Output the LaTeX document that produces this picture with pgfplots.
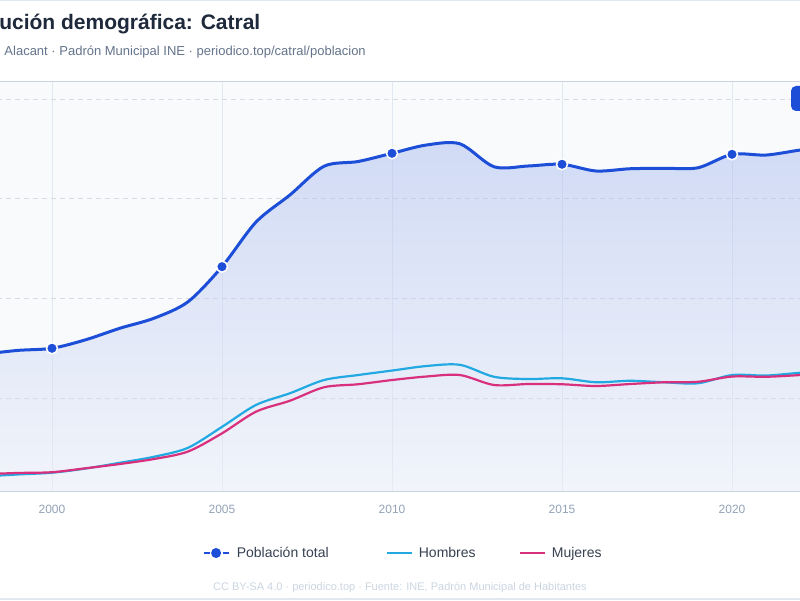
\documentclass[border=0pt]{standalone}
\usepackage{fontspec}
\setmainfont{Liberation Sans}
\usepackage{pgfplots}
\usepackage{pgfplotstable}
\pgfplotsset{compat=1.18}

\definecolor{totalblue}{HTML}{1D4ED8}
\definecolor{hombresc}{HTML}{22A9E2}
\definecolor{mujeresc}{HTML}{D9307D}
\definecolor{gridc}{HTML}{E2E8F0}
\definecolor{dashc}{HTML}{D5DCE6}
\definecolor{framec}{HTML}{CBD5E1}
\definecolor{plotbg}{HTML}{F8FAFC}
\definecolor{titlec}{HTML}{1E293B}
\definecolor{subc}{HTML}{64748B}
\definecolor{tickc}{HTML}{94A3B8}
\definecolor{legc}{HTML}{374151}
\definecolor{footc}{HTML}{CBD5E1}
\definecolor{filltop}{HTML}{A3B6EE}
\definecolor{fillbot}{HTML}{EAEEF9}

% Padrón municipal: población total, hombres y mujeres
\pgfplotstableread{
year total hombres mujeres
1998 4880 2425 2470
1999 4955 2465 2495
2000 4997 2500 2510
2001 5170 2585 2590
2002 5400 2700 2675
2003 5600 2820 2775
2004 5930 3000 2925
2005 6635 3420 3290
2006 7530 3860 3725
2007 8075 4095 3945
2008 8650 4360 4215
2009 8745 4460 4275
2010 8910 4550 4360
2011 9075 4640 4430
2012 9100 4665 4460
2013 8640 4425 4260
2014 8655 4380 4280
2015 8690 4395 4275
2016 8555 4315 4240
2017 8600 4345 4280
2018 8610 4315 4315
2019 8620 4295 4325
2020 8890 4460 4430
2021 8875 4450 4425
2022 8975 4505 4460
2023 9060 4550 4510
}\catral

\begin{document}
\begin{tikzpicture}
\begin{scope}
\clip (0pt,0pt) rectangle (800pt,600pt);
\fill[white] (0pt,0pt) rectangle (800pt,600pt);
\draw[gridc, line width=1pt] (0pt,599.5pt) -- (800pt,599.5pt);
\draw[gridc, line width=1.5pt] (0pt,1.2pt) -- (800pt,1.2pt);

\node[anchor=base east, inner sep=0pt, text=titlec,
      font=\fontsize{21}{25}\selectfont\bfseries] at (260.5pt,570pt)
      {Evolución demográfica: Catral};
\node[anchor=base east, inner sep=0pt, text=subc,
      font=\fontsize{13}{16}\selectfont] at (366pt,544pt)
      {Catral, Alacant · Padrón Municipal INE · periodico.top/catral/poblacion};

\begin{axis}[
  at={(-84pt,109pt)}, anchor=south west,
  scale only axis, width=952pt, height=409pt,
  xmin=1996, xmax=2024, ymin=2133, ymax=10341,
  axis background/.style={fill=plotbg},
  axis line style={framec, line width=1pt},
  xtick={2000,2005,2010,2015,2020},
  ytick={4000,6000,8000,10000},
  yticklabels={},
  major tick length=0pt,
  xmajorgrids, ymajorgrids,
  x grid style={gridc, line width=0.8pt},
  y grid style={dashc, line width=0.8pt, dash pattern=on 5pt off 4pt},
  /pgf/number format/assume math mode=true,
  x tick label style={/pgf/number format/1000 sep={}, anchor=base, yshift=-22.3pt,
    font=\fontsize{12}{14}\selectfont, text=tickc},
  legend columns=3,
  legend style={at={(axis description cs:0.5105,-0.1516)}, anchor=center,
    draw=none, fill=none, font=\fontsize{14}{17}\selectfont, text=legc,
    nodes={inner sep=0pt},
    /tikz/column 1/.style={column sep=7pt},
    /tikz/column 2/.style={column sep=57pt},
    /tikz/column 3/.style={column sep=6pt},
    /tikz/column 4/.style={column sep=43pt},
    /tikz/column 5/.style={column sep=6pt}},
]
% shaded area under the total, half transparent so the grid shows through
\addplot[draw=none, smooth, top color=filltop, bottom color=fillbot, fill opacity=0.45, forget plot]
  table[x=year, y=total] {\catral} \closedcycle;

\addplot[totalblue, line width=3pt, smooth,
  mark=*, mark indices={3,8,13,18,23}, mark size=5.5pt,
  mark options={fill=totalblue, draw=white, line width=1.5pt, solid},
  legend image code/.code={
    \draw[totalblue, line width=2.5pt] (0pt,0pt) -- (6pt,0pt);
    \draw[totalblue, line width=2.5pt] (19pt,0pt) -- (25pt,0pt);
    \fill[totalblue] (12.5pt,0pt) circle (3.4pt);}]
  table[x=year, y=total] {\catral};
\addlegendentry{Población total}

\addplot[hombresc, line width=2.2pt, smooth,
  legend image code/.code={\draw[hombresc, line width=2.2pt] (0pt,0pt) -- (25pt,0pt);}]
  table[x=year, y=hombres] {\catral};
\addlegendentry{Hombres}

\addplot[mujeresc, line width=2.2pt, smooth,
  legend image code/.code={\draw[mujeresc, line width=2.2pt] (0pt,0pt) -- (25pt,0pt);}]
  table[x=year, y=mujeres] {\catral};
\addlegendentry{Mujeres}
\end{axis}

% button in the top-right corner
\fill[totalblue, rounded corners=5pt] (791pt,489pt) rectangle (840pt,514pt);

\node[anchor=base, inner sep=0pt, text=footc, font=\fontsize{11}{13}\selectfont] at (400pt,10pt)
  {CC BY-SA 4.0 · periodico.top · Fuente: INE, Padrón Municipal de Habitantes};
\end{scope}
\pgfresetboundingbox
\useasboundingbox (0pt,0pt) rectangle (800pt,600pt);
\end{tikzpicture}
\end{document}
